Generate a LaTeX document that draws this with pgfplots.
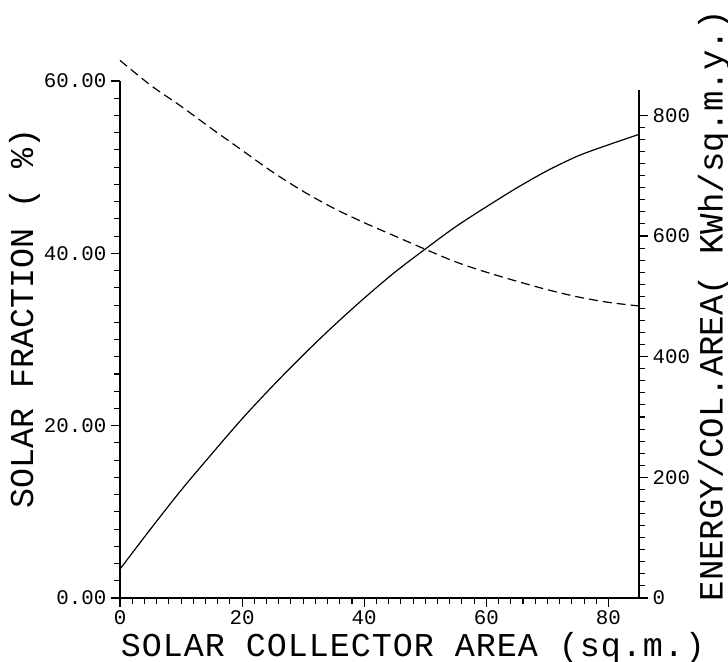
\documentclass[border=0pt]{standalone}
\usepackage{pgfplots}
\pgfplotsset{compat=1.18}
\usepackage{fontspec}
\setmainfont{Liberation Mono}
\begin{document}
\begin{tikzpicture}
\path[use as bounding box] (-90pt,-47.25pt) rectangle (456pt,448.5pt);
\begin{axis}[
  at={(0pt,0pt)}, anchor=south west,
  scale only axis, width=389.25pt, height=387.75pt,
  xmin=0, xmax=85, ymin=0, ymax=60,
  axis x line*=bottom, axis y line*=left,
  tick align=outside,
  major tick length=6.75pt, minor tick length=4.5pt,
  xtick={0,20,40,60,80}, ytick={0,20,40,60},
  xticklabels={},
  minor x tick num=9, minor y tick num=9,
  /pgf/number format/assume math mode=true,
  yticklabel style={/pgf/number format/fixed, /pgf/number format/fixed zerofill, /pgf/number format/precision=2},
  tick label style={font=\fontsize{15.6}{16}\selectfont},
  axis line style={line width=1pt, black},
  every tick/.style={line width=0.8pt, black},
  clip=false,
]
\addplot[black, line width=0.9pt, smooth] coordinates {
(0,3.35) (5,8.0) (10,12.5) (15,16.7) (20,20.8) (25,24.6) (30,28.2) (35,31.6)
(40,34.8) (45,37.8) (50,40.5) (55,43.1) (60,45.4) (65,47.6) (70,49.6) (75,51.3)
(80,52.6) (85,53.8)};
\tikzset{xtl/.style={anchor=base, inner sep=0pt, yshift=-19.8pt, font=\fontsize{15.6}{16}\selectfont}}
\node[xtl] at (axis cs:0,0) {0};
\node[xtl] at (axis cs:20,0) {20};
\node[xtl] at (axis cs:40,0) {40};
\node[xtl] at (axis cs:60,0) {60};
\node[xtl] at (axis cs:80,0) {80};
\node[rotate=90, anchor=base, inner sep=0pt, font=\fontsize{25}{26}\selectfont] at (rel axis cs:-0.1676,0.5416) {SOLAR FRACTION ( \%)};
\node[anchor=base, inner sep=0pt, font=\fontsize{25}{26}\selectfont\addfontfeature{LetterSpace=3}] at (rel axis cs:0.5645,-0.1122) {SOLAR COLLECTOR AREA (sq.m.)};
\node[rotate=90, anchor=base, inner sep=0pt, font=\fontsize{25.5}{26}\selectfont] at (rel axis cs:1.1610,0.5658) {ENERGY/COL.AREA( KWh/sq.m.y.)};
\end{axis}
\begin{axis}[
  at={(0pt,0pt)}, anchor=south west,
  scale only axis, width=389.25pt, height=381pt,
  xmin=0, xmax=85, ymin=0, ymax=842,
  axis x line=none, axis y line*=right,
  tick align=outside,
  major tick length=6.75pt, minor tick length=4.5pt,
  ytick={0,200,400,600,800}, minor y tick num=9,
  /pgf/number format/assume math mode=true,
  tick label style={font=\fontsize{15.6}{16}\selectfont},
  axis line style={line width=1pt, black},
  every tick/.style={line width=0.8pt, black},
  clip=false,
]
\addplot[black, line width=0.9pt, smooth, dash pattern=on 6.75pt off 3.75pt] coordinates {
(0,891) (5,850) (10,815) (15,778) (20,742) (25,706) (30,674) (35,646) (40,622)
(45,600) (50,578) (55,557) (60,540) (65,525) (70,511) (75,499) (80,490) (85,484)};
\end{axis}
\end{tikzpicture}
\end{document}
